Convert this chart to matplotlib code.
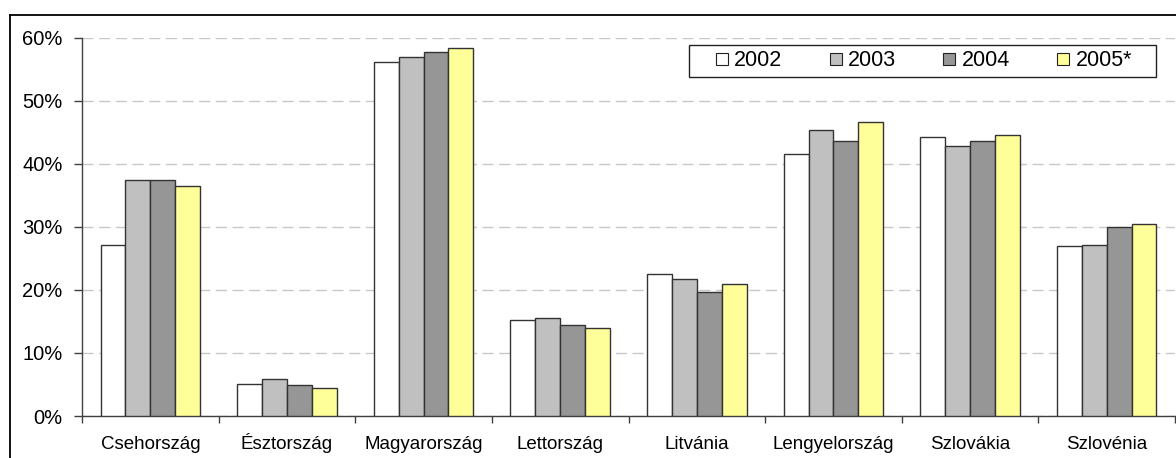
import numpy as np
import matplotlib
matplotlib.use("Agg")
import matplotlib.pyplot as plt
from matplotlib.lines import Line2D
from matplotlib.patches import Rectangle
from matplotlib.ticker import PercentFormatter

plt.rcParams['font.family'] = ['Liberation Sans', 'DejaVu Sans']

orszagok = ["Csehország", "Észtország", "Magyarország", "Lettország",
            "Litvánia", "Lengyelország", "Szlovákia", "Szlovénia"]
evek = ["2002", "2003", "2004", "2005*"]

ertek_2002 = [27.1, 5.0, 56.2, 15.2, 22.5, 41.5, 44.3, 27.0]
ertek_2003 = [37.5, 5.8, 56.9, 15.6, 21.8, 45.3, 42.8, 27.1]
ertek_2004 = [37.5, 4.9, 57.7, 14.5, 19.6, 43.6, 43.6, 29.9]
ertek_2005 = [36.4, 4.5, 58.4, 14.0, 21.0, 46.7, 44.5, 30.5]

sorok = [ertek_2002, ertek_2003, ertek_2004, ertek_2005]
szinek = ["#ffffff", "#c0c0c0", "#969696", "#ffff99"]

W, H = 1176, 458
fig = plt.figure(figsize=(W / 100, H / 100), dpi=100)
ax = fig.add_axes([82 / W, (H - 416) / H, 1093 / W, (416 - 37.7) / H])

x = np.arange(len(orszagok))
w = 0.182
for i, (vals, c) in enumerate(zip(sorok, szinek)):
    ax.bar(x + (i - 1.5) * w, vals, width=w, color=c, edgecolor="#333333",
           linewidth=1.0, zorder=3)

ax.set_xlim(-0.5, len(orszagok) - 0.5)
ax.set_ylim(0, 60)
ax.set_yticks(range(0, 61, 10))
ax.yaxis.set_major_formatter(PercentFormatter(decimals=0))
ax.grid(axis="y", color="#c8c8c8", linestyle=(0, (8, 4)), linewidth=1.0, zorder=0)

# x ticks sit between the categories, labels in the middle
ax.set_xticks(np.arange(len(orszagok) + 1) - 0.5)
ax.set_xticklabels([])
ax.set_xticks(x, minor=True)
ax.set_xticklabels(orszagok, minor=True)
ax.tick_params(axis="x", which="minor", length=0, pad=23.8, labelsize=13.5)
for lbl in ax.get_xticklabels(minor=True):
    lbl.set_verticalalignment("baseline")
ax.tick_params(axis="x", which="major", length=5, width=1, color="#404040")
ax.tick_params(axis="y", length=6, width=1, color="#404040", pad=8, labelsize=14.5)

for s in ["top", "right"]:
    ax.spines[s].set_visible(False)
for s in ["left", "bottom"]:
    ax.spines[s].set_color("#404040")
    ax.spines[s].set_linewidth(1.0)

# legend with a separate frame
fogok = [Line2D([], [], linestyle="none", marker="s", markersize=8.5,
                markerfacecolor=c, markeredgecolor="#222222", markeredgewidth=0.8)
         for c in szinek]
fig.legend(fogok, evek, loc="center", bbox_to_anchor=(924 / W, 1 - 61 / H),
           ncol=4, frameon=False, fontsize=15.5, handlelength=0.55,
           handletextpad=0.3, columnspacing=2.2, borderpad=0)
fig.add_artist(Rectangle((689 / W, 1 - 77 / H), (1156 - 689) / W, 32 / H,
                         transform=fig.transFigure, fill=False,
                         edgecolor="#222222", linewidth=1.0))

# outer chart border
fig.add_artist(Line2D([10 / W, 10 / W], [1 - 15 / H, -0.1], transform=fig.transFigure,
                      color="black", linewidth=1.3))
fig.add_artist(Line2D([10 / W, 1.1], [1 - 15 / H, 1 - 15 / H], transform=fig.transFigure,
                      color="black", linewidth=1.3))

fig.savefig("out.png", dpi=100)
